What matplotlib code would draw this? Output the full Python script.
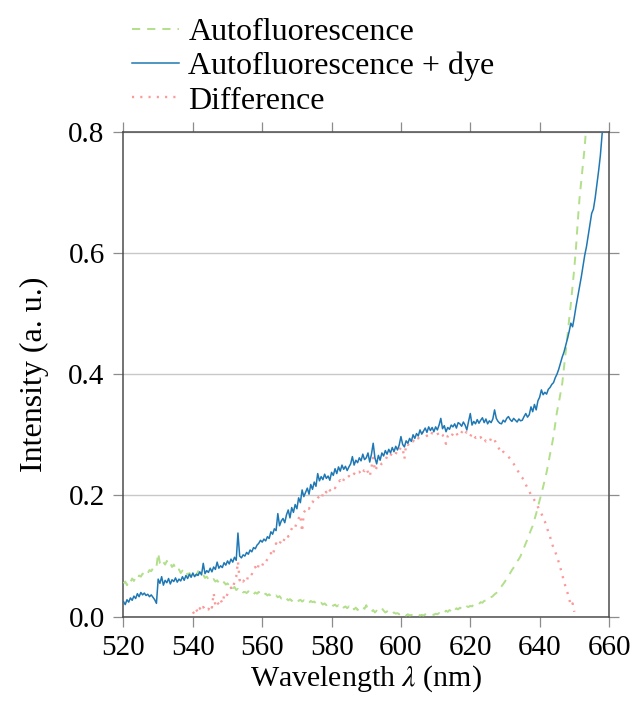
import numpy as np
import matplotlib
matplotlib.use("Agg")
import matplotlib.pyplot as plt

plt.rcParams["font.family"] = ["Liberation Serif", "DejaVu Serif"]
plt.rcParams["mathtext.fontset"] = "stix"

# Spectra sampled every 0.5 nm
step = 0.5

# Autofluorescence + dye, 520.0 .. 658.5 nm
auto_dye_start = 520.0
auto_dye = [
    0.025, 0.020, 0.028, 0.024, 0.031, 0.027, 0.034, 0.030, 0.038, 0.033,
    0.040, 0.036, 0.039, 0.035, 0.037, 0.033, 0.036, 0.032, 0.028, 0.022,
    0.062, 0.055, 0.066, 0.052, 0.060, 0.056, 0.063, 0.054, 0.061, 0.058,
    0.064, 0.057, 0.062, 0.059, 0.066, 0.060, 0.068, 0.063, 0.070, 0.065,
    0.072, 0.066, 0.070, 0.068, 0.074, 0.069, 0.088, 0.071, 0.076, 0.073,
    0.080, 0.074, 0.082, 0.078, 0.090, 0.080, 0.084, 0.081, 0.089, 0.085,
    0.092, 0.087, 0.095, 0.090, 0.098, 0.093, 0.138, 0.100, 0.097, 0.102,
    0.100, 0.106, 0.103, 0.110, 0.107, 0.114, 0.112, 0.118, 0.121, 0.126,
    0.123, 0.128, 0.125, 0.132, 0.129, 0.140, 0.136, 0.145, 0.142, 0.170,
    0.150, 0.158, 0.162, 0.155, 0.168, 0.176, 0.163, 0.180, 0.172, 0.185,
    0.178, 0.196, 0.188, 0.209, 0.198, 0.205, 0.212, 0.202, 0.218, 0.210,
    0.222, 0.215, 0.236, 0.224, 0.231, 0.226, 0.235, 0.228, 0.232, 0.225,
    0.238, 0.233, 0.244, 0.236, 0.247, 0.240, 0.250, 0.243, 0.248, 0.241,
    0.247, 0.252, 0.264, 0.250, 0.258, 0.254, 0.262, 0.257, 0.268, 0.259,
    0.262, 0.270, 0.255, 0.268, 0.286, 0.262, 0.252, 0.266, 0.258, 0.270,
    0.265, 0.274, 0.268, 0.276, 0.270, 0.279, 0.272, 0.281, 0.275, 0.283,
    0.297, 0.284, 0.280, 0.290, 0.286, 0.294, 0.289, 0.300, 0.294, 0.302,
    0.298, 0.308, 0.301, 0.306, 0.311, 0.304, 0.313, 0.307, 0.312, 0.305,
    0.313, 0.308, 0.316, 0.327, 0.310, 0.315, 0.305, 0.312, 0.309, 0.316,
    0.313, 0.318, 0.311, 0.320, 0.318, 0.314, 0.321, 0.316, 0.308, 0.322,
    0.335, 0.316, 0.322, 0.318, 0.325, 0.319, 0.324, 0.328, 0.320, 0.326,
    0.318, 0.323, 0.320, 0.326, 0.341, 0.327, 0.322, 0.319, 0.318, 0.324,
    0.321, 0.327, 0.330, 0.325, 0.322, 0.327, 0.324, 0.321, 0.326, 0.323,
    0.324, 0.330, 0.335, 0.329, 0.333, 0.346, 0.338, 0.350, 0.341, 0.356,
    0.362, 0.374, 0.366, 0.370, 0.367, 0.375, 0.378, 0.383, 0.386, 0.394,
    0.400, 0.408, 0.418, 0.428, 0.436, 0.447, 0.458, 0.470, 0.484, 0.478,
    0.494, 0.512, 0.528, 0.545, 0.560, 0.578, 0.596, 0.610, 0.628, 0.645,
    0.665, 0.672, 0.690, 0.712, 0.735, 0.760, 0.795, 0.825,
]

# Autofluorescence only, 520.0 .. 653.5 nm
auto_start = 520.0
auto = [
    0.055, 0.058, 0.052, 0.060, 0.057, 0.063, 0.059, 0.065, 0.062, 0.068,
    0.066, 0.071, 0.069, 0.074, 0.072, 0.077, 0.075, 0.080, 0.078, 0.082,
    0.105, 0.088, 0.084, 0.090, 0.086, 0.092, 0.085, 0.088, 0.082, 0.086,
    0.079, 0.075, 0.078, 0.072, 0.076, 0.071, 0.074, 0.069, 0.072, 0.068,
    0.070, 0.074, 0.068, 0.075, 0.071, 0.066, 0.069, 0.064, 0.066, 0.062,
    0.064, 0.060, 0.062, 0.058, 0.060, 0.056, 0.058, 0.054, 0.057, 0.053,
    0.055, 0.051, 0.053, 0.047, 0.049, 0.044, 0.046, 0.042, 0.044, 0.040,
    0.041, 0.039, 0.042, 0.038, 0.040, 0.037, 0.040, 0.038, 0.041, 0.037,
    0.039, 0.036, 0.038, 0.035, 0.037, 0.034, 0.036, 0.033, 0.035, 0.032,
    0.034, 0.030, 0.032, 0.028, 0.030, 0.027, 0.029, 0.026, 0.029, 0.027,
    0.029, 0.026, 0.028, 0.025, 0.027, 0.024, 0.026, 0.023, 0.026, 0.024,
    0.025, 0.022, 0.024, 0.021, 0.023, 0.020, 0.022, 0.019, 0.022, 0.020,
    0.021, 0.018, 0.020, 0.017, 0.019, 0.016, 0.019, 0.015, 0.017, 0.014,
    0.017, 0.013, 0.016, 0.012, 0.015, 0.011, 0.014, 0.012, 0.016, 0.013,
    0.019, 0.012, 0.011, 0.008, 0.011, 0.007, 0.010, 0.008, 0.012, 0.014,
    0.010, 0.007, 0.009, 0.006, 0.008, 0.005, 0.007, 0.005, 0.006, 0.004,
    0.005, 0.003, 0.005, 0.002, 0.004, 0.002, 0.003, 0.002, 0.004, 0.003,
    0.004, 0.002, 0.003, 0.002, 0.004, 0.002, 0.003, 0.003, 0.004, 0.003,
    0.005, 0.004, 0.006, 0.005, 0.008, 0.006, 0.010, 0.008, 0.011, 0.009,
    0.013, 0.010, 0.014, 0.012, 0.015, 0.013, 0.016, 0.014, 0.017, 0.016,
    0.018, 0.017, 0.020, 0.019, 0.022, 0.021, 0.024, 0.023, 0.026, 0.027,
    0.030, 0.029, 0.032, 0.034, 0.037, 0.039, 0.043, 0.046, 0.050, 0.054,
    0.058, 0.063, 0.068, 0.072, 0.077, 0.081, 0.086, 0.091, 0.095, 0.100,
    0.108, 0.114, 0.121, 0.128, 0.136, 0.143, 0.150, 0.160, 0.170, 0.181,
    0.192, 0.203, 0.214, 0.226, 0.238, 0.253, 0.268, 0.282, 0.298, 0.318,
    0.338, 0.352, 0.368, 0.384, 0.410, 0.436, 0.462, 0.490, 0.516, 0.545,
    0.575, 0.610, 0.652, 0.690, 0.718, 0.745, 0.775, 0.815,
]

# Difference, 540.0 .. 649.0 nm
diff_start = 540.0
diff = [
    0.008, 0.004, 0.012, 0.006, 0.014, 0.009, 0.016, 0.011, 0.014, 0.012,
    0.020, 0.015, 0.039, 0.018, 0.024, 0.020, 0.028, 0.022, 0.034, 0.030,
    0.038, 0.042, 0.048, 0.045, 0.058, 0.066, 0.091, 0.060, 0.064, 0.058,
    0.062, 0.058, 0.068, 0.072, 0.070, 0.078, 0.082, 0.076, 0.086, 0.088,
    0.084, 0.092, 0.090, 0.095, 0.099, 0.105, 0.100, 0.112, 0.121, 0.116,
    0.120, 0.126, 0.122, 0.130, 0.135, 0.132, 0.140, 0.145, 0.151, 0.148,
    0.155, 0.162, 0.168, 0.140, 0.172, 0.176, 0.181, 0.178, 0.186, 0.190,
    0.188, 0.193, 0.196, 0.198, 0.194, 0.202, 0.209, 0.205, 0.212, 0.208,
    0.210, 0.215, 0.212, 0.218, 0.222, 0.225, 0.220, 0.226, 0.230, 0.228,
    0.232, 0.229, 0.231, 0.236, 0.233, 0.238, 0.239, 0.235, 0.242, 0.240,
    0.245, 0.238, 0.231, 0.246, 0.262, 0.240, 0.246, 0.250, 0.248, 0.253,
    0.255, 0.258, 0.264, 0.261, 0.266, 0.270, 0.272, 0.268, 0.276, 0.274,
    0.280, 0.278, 0.260, 0.285, 0.283, 0.288, 0.291, 0.289, 0.295, 0.297,
    0.294, 0.300, 0.305, 0.301, 0.304, 0.298, 0.302, 0.299, 0.303, 0.300,
    0.300, 0.303, 0.298, 0.302, 0.300, 0.292, 0.285, 0.298, 0.301, 0.297,
    0.302, 0.299, 0.303, 0.297, 0.300, 0.304, 0.308, 0.302, 0.305, 0.301,
    0.297, 0.303, 0.299, 0.295, 0.297, 0.293, 0.296, 0.291, 0.294, 0.289,
    0.291, 0.288, 0.294, 0.290, 0.292, 0.284, 0.280, 0.275, 0.278, 0.272,
    0.269, 0.266, 0.264, 0.260, 0.256, 0.252, 0.248, 0.242, 0.238, 0.232,
    0.229, 0.225, 0.218, 0.212, 0.207, 0.201, 0.198, 0.192, 0.188, 0.181,
    0.176, 0.170, 0.164, 0.157, 0.148, 0.140, 0.132, 0.121, 0.114, 0.107,
    0.099, 0.090, 0.080, 0.070, 0.058, 0.049, 0.040, 0.030, 0.018, 0.022,
    0.008,
]

labels = ["Autofluorescence", "Autofluorescence + dye", "Difference"]
x_ticks = [520, 540, 560, 580, 600, 620, 640, 660]
y_ticks = [0.0, 0.2, 0.4, 0.6, 0.8]

GREEN = "#b2df8a"
BLUE = "#1f78b4"
PINK = "#fb9a99"


def wavelengths(start, values):
    return start + step * np.arange(len(values))


fig = plt.figure(figsize=(6.33, 7.07), dpi=100)
ax = fig.add_axes([0.1951, 0.1277, 0.7670, 0.6863])

l_auto, = ax.plot(wavelengths(auto_start, auto), auto, color=GREEN, lw=1.4,
                  linestyle=(0, (4.2, 3.6)), label=labels[0], zorder=3)
l_dye, = ax.plot(wavelengths(auto_dye_start, auto_dye), auto_dye, color=BLUE,
                 lw=1.1, label=labels[1], zorder=4)
l_diff, = ax.plot(wavelengths(diff_start, diff), diff, color=PINK, lw=1.7,
                  linestyle=(0, (0.9, 2.6)), label=labels[2], zorder=3)

ax.set_xlim(520, 660)
ax.set_ylim(0.0, 0.8)
ax.set_xticks(x_ticks)
ax.set_yticks(y_ticks)
ax.set_xticklabels([str(t) for t in x_ticks])
ax.set_yticklabels([f"{t:.1f}" for t in y_ticks])

ax.yaxis.grid(True, color="#c8c8c8", lw=1.0, zorder=0)
ax.set_axisbelow(True)

for side in ax.spines.values():
    side.set_color("#4d4d4d")
    side.set_linewidth(1.1)

ax.tick_params(axis="both", which="major", direction="out", length=7.5,
               width=0.9, color="#8c8c8c", labelsize=21, labelcolor="black",
               top=True, right=True)
ax.tick_params(axis="x", pad=6)
ax.tick_params(axis="y", pad=6)

ax.set_xlabel(r"Wavelength $\lambda$ (nm)", fontsize=21.5, labelpad=1)
ax.set_ylabel("Intensity (a. u.)", fontsize=23, labelpad=14)

leg = fig.legend(handles=[l_auto, l_dye, l_diff], loc="upper left",
                 bbox_to_anchor=(0.189, 0.993), frameon=False, fontsize=23,
                 handlelength=1.45, handletextpad=0.3, labelspacing=0.15,
                 borderaxespad=0.0)

fig.savefig("out.png", dpi=100)
